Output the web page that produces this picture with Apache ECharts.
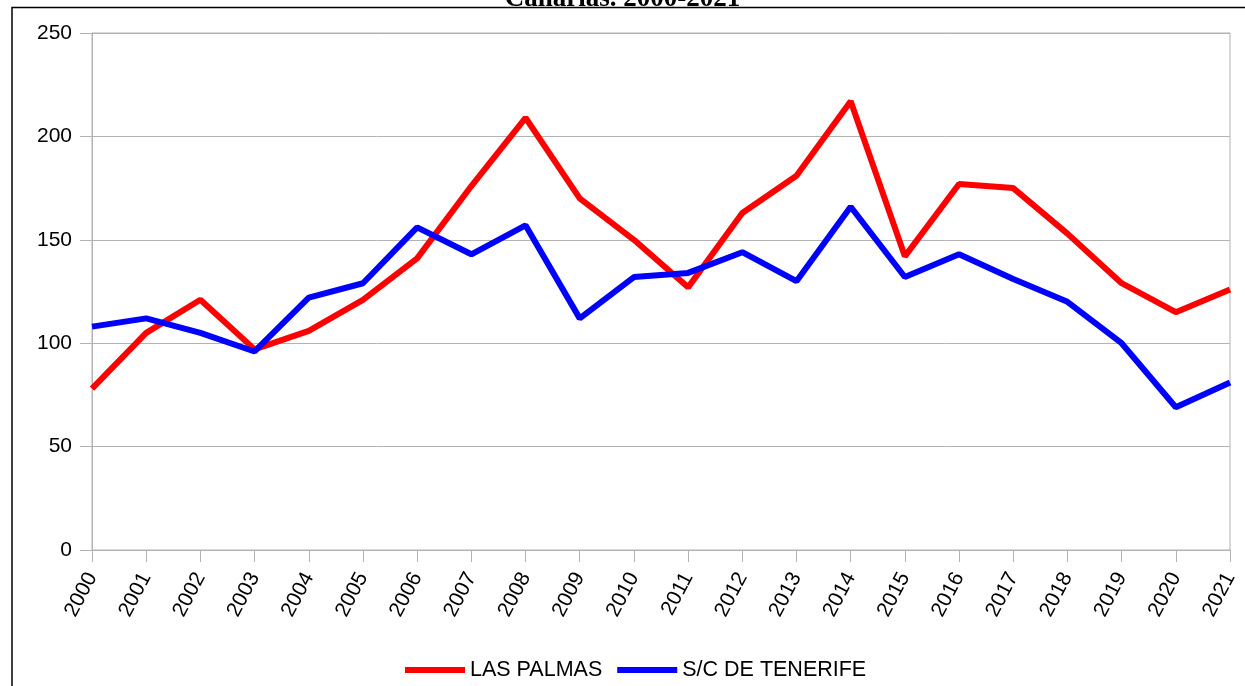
<!DOCTYPE html>
<html>
<head>
<meta charset="utf-8">
<script src="https://cdn.jsdelivr.net/npm/echarts@6/dist/echarts.min.js"></script>
<style>html,body{margin:0;padding:0;background:#fff;}#c{width:1245px;height:686px;}</style>
</head>
<body>
<div id="c"></div>
<script>
const years = ['2000','2001','2002','2003','2004','2005','2006','2007','2008','2009','2010','2011','2012','2013','2014','2015','2016','2017','2018','2019','2020','2021'];
const lasPalmas = [78,105,121,97,106,121,141,176,209,170,150,127,163,181,217,142,177,175,153,129,115,126];
const tenerife = [108,112,105,96,122,129,156,143,157,112,132,134,144,130,166,132,143,131,120,100,69,81];
const yTicks = [0,50,100,150,200,250];
const titleText = 'Canarias. 2000-2021';
const seriesNames = ['LAS PALMAS','S/C DE TENERIFE'];

const chart = echarts.init(document.getElementById('c'), null, {renderer:'canvas'});
const grey = '#b3b3b3';
chart.setOption({
  animation:false,
  backgroundColor:'#fff',
  title:{
    text:titleText, left:'center', top:-19,
    textStyle:{fontFamily:'Liberation Serif', fontWeight:'bold', fontSize:27, color:'#000'}
  },
  graphic:[
    {type:'polyline', silent:true, shape:{points:[[12,686],[12,7.5],[1245,7.5]]}, style:{stroke:'#000', lineWidth:1.5, fill:null}}
  ],
  grid:{left:92, right:15, top:33, bottom:136, show:true, borderColor:grey, borderWidth:1},
  legend:{
    data:seriesNames, bottom:0, left:400, icon:'rect', itemWidth:60, itemHeight:6, itemGap:15,
    textStyle:{fontFamily:'Liberation Sans', fontSize:21.5, color:'#000'}
  },
  xAxis:{
    type:'category', data:years, boundaryGap:false,
    axisLine:{lineStyle:{color:grey}},
    axisTick:{show:true, length:12, alignWithLabel:true, lineStyle:{color:grey}},
    axisLabel:{rotate:62, margin:24, interval:0, fontFamily:'Liberation Sans', fontSize:21, color:'#000'},
    splitLine:{show:false}
  },
  yAxis:{
    type:'value', min:yTicks[0], max:yTicks[yTicks.length-1], interval:50,
    axisLine:{show:true, lineStyle:{color:grey}},
    axisTick:{show:true, length:12, lineStyle:{color:grey}},
    axisLabel:{margin:20, fontFamily:'Liberation Sans', fontSize:21, color:'#000'},
    splitLine:{lineStyle:{color:grey, width:1}}
  },
  series:[
    {name:seriesNames[0], type:'line', data:lasPalmas, showSymbol:false, symbol:'none', lineStyle:{color:'#ff0000', width:6}, itemStyle:{color:'#ff0000'}},
    {name:seriesNames[1], type:'line', data:tenerife, showSymbol:false, symbol:'none', lineStyle:{color:'#0000ff', width:6}, itemStyle:{color:'#0000ff'}}
  ]
});
</script>
</body>
</html>
